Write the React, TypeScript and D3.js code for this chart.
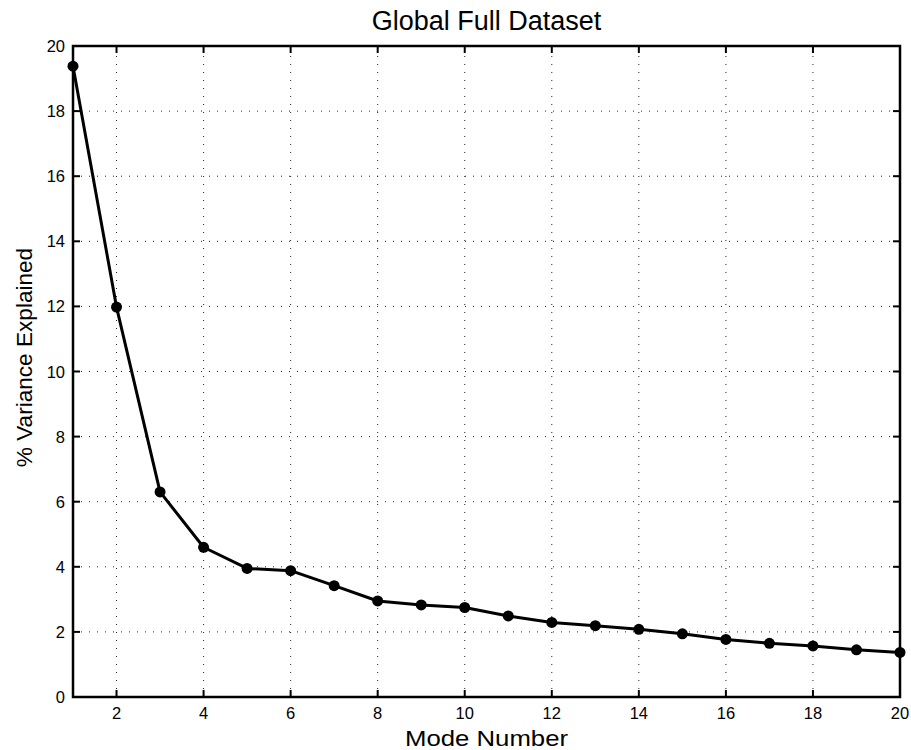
import React, { useEffect, useRef } from 'react';
import * as d3 from 'd3';

// mode numbers and % variance explained
const modes = [1, 2, 3, 4, 5, 6, 7, 8, 9, 10, 11, 12, 13, 14, 15, 16, 17, 18, 19, 20];
const variance = [19.38, 11.98, 6.3, 4.6, 3.95, 3.88, 3.42, 2.95, 2.83, 2.75, 2.49, 2.29, 2.19, 2.08, 1.94, 1.77, 1.65, 1.57, 1.45, 1.37];
const xTicks = [2, 4, 6, 8, 10, 12, 14, 16, 18, 20];
const yTicks = [0, 2, 4, 6, 8, 10, 12, 14, 16, 18, 20];

const W = 911;
const H = 750;
const margin = { top: 46, right: 11, bottom: 53, left: 73 };
const FONT = "'Liberation Sans', Arial, Helvetica, sans-serif";

function App() {
  const ref = useRef(null);

  useEffect(() => {
    const svg = d3.select(ref.current);
    svg.selectAll('*').remove();

    const x = d3.scaleLinear().domain([1, 20]).range([margin.left, W - margin.right]);
    const y = d3.scaleLinear().domain([0, 20]).range([H - margin.bottom, margin.top]);
    const [x0, x1] = x.range();
    const [y0, y1] = y.range();

    svg.append('rect').attr('width', W).attr('height', H).attr('fill', '#fff');

    // dotted grid
    const grid = svg.append('g').attr('stroke', '#222').attr('stroke-width', 1).attr('stroke-dasharray', '1,7');
    xTicks.filter(t => t < 20).forEach(t => {
      grid.append('line').attr('x1', x(t)).attr('x2', x(t)).attr('y1', y0).attr('y2', y1);
    });
    yTicks.filter(t => t > 0 && t < 20).forEach(t => {
      grid.append('line').attr('x1', x0).attr('x2', x1).attr('y1', y(t)).attr('y2', y(t));
    });

    // ticks on all four sides, pointing inward
    const tl = 7;
    const ticks = svg.append('g').attr('stroke', '#000').attr('stroke-width', 2);
    xTicks.forEach(t => {
      ticks.append('line').attr('x1', x(t)).attr('x2', x(t)).attr('y1', y0).attr('y2', y0 - tl);
      ticks.append('line').attr('x1', x(t)).attr('x2', x(t)).attr('y1', y1).attr('y2', y1 + tl);
    });
    yTicks.forEach(t => {
      ticks.append('line').attr('x1', x0).attr('x2', x0 + tl).attr('y1', y(t)).attr('y2', y(t));
      ticks.append('line').attr('x1', x1).attr('x2', x1 - tl).attr('y1', y(t)).attr('y2', y(t));
    });

    // box
    svg.append('rect')
      .attr('x', x0).attr('y', y1)
      .attr('width', x1 - x0).attr('height', y0 - y1)
      .attr('fill', 'none').attr('stroke', '#000').attr('stroke-width', 2.5);

    // tick labels
    const lab = svg.append('g').attr('font-family', FONT).attr('font-size', 16.5).attr('fill', '#000');
    xTicks.forEach(t => {
      lab.append('text').attr('x', x(t)).attr('y', y0 + 22).attr('text-anchor', 'middle').text(t);
    });
    yTicks.forEach(t => {
      lab.append('text').attr('x', x0 - 8).attr('y', y(t) + 6).attr('text-anchor', 'end').text(t);
    });

    // data line + markers
    const pts = modes.map((m, i) => [m, variance[i]]);
    const line = d3.line().x(d => x(d[0])).y(d => y(d[1]));
    svg.append('path')
      .datum(pts)
      .attr('fill', 'none')
      .attr('stroke', '#000')
      .attr('stroke-width', 3)
      .attr('stroke-linejoin', 'round')
      .attr('d', line);
    svg.append('g').selectAll('circle')
      .data(pts)
      .join('circle')
      .attr('cx', d => x(d[0]))
      .attr('cy', d => y(d[1]))
      .attr('r', 5.5)
      .attr('fill', '#000');

    // titles
    svg.append('text')
      .attr('x', (x0 + x1) / 2).attr('y', 30)
      .attr('text-anchor', 'middle')
      .attr('font-family', FONT).attr('font-size', 27)
      .text('Global Full Dataset');
    // the source figure is stretched a bit horizontally
    svg.append('text')
      .attr('transform', `translate(${(x0 + x1) / 2},746) scale(1.12,1)`)
      .attr('text-anchor', 'middle')
      .attr('font-family', FONT).attr('font-size', 23)
      .text('Mode Number');
    svg.append('text')
      .attr('transform', `translate(32,357.5) rotate(-90)`)
      .attr('text-anchor', 'middle')
      .attr('font-family', FONT).attr('font-size', 22.6)
      .text('% Variance Explained');
  }, []);

  return (
    <svg
      ref={ref}
      width={W}
      height={H}
      style={{ position: 'absolute', left: 0, top: 0, display: 'block' }}
    />
  );
}

export default App;
